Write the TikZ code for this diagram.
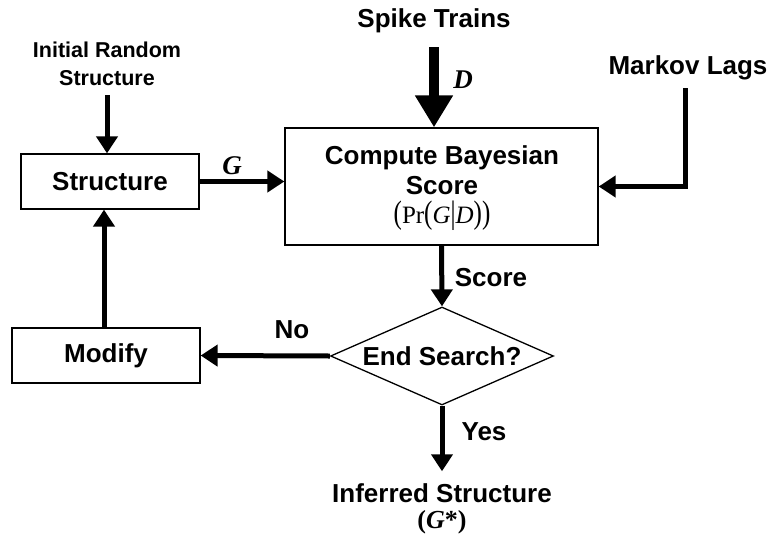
\documentclass[tikz,border=0pt]{standalone}
\usepackage{fontspec}
\setmainfont{Liberation Sans}
\newfontfamily\seriff{Liberation Serif}
\usetikzlibrary{arrows.meta,shapes.geometric}
\tikzset{
  box/.style={draw, line width=1.3pt, inner sep=0pt, font=\fontsize{26}{28}\selectfont\bfseries},
  lbl/.style={font=\fontsize{26}{27}\selectfont\bfseries, inner sep=0pt, align=center},
  mlbl/.style={font=\fontsize{27}{27}\selectfont\seriff\bfseries\itshape, inner sep=0pt},
  arr/.style={line width=5pt, -{Triangle[length=17pt,width=21pt]}},
  bigarr/.style={line width=10pt, -{Triangle[length=32pt,width=36pt]}},
}
\newcommand{\tallp}[1]{\scalebox{1}[1.3]{#1}}
\begin{document}
\begin{tikzpicture}[x=1pt,y=-1pt]
\useasboundingbox (0,0) rectangle (776,544);
% nodes
\node[lbl] (spike) at (434,21) {Spike Trains};
\node[box, minimum width=313pt, minimum height=117pt] (main) at (441.5,186.5) {};
\node[lbl] (t1) at (442,158) {Compute Bayesian};
\node[lbl] (t2) at (442,186) {Score};
\node[inner sep=0pt, font=\fontsize{25}{25}\selectfont\seriff] (t3) at (442,216)
  {\tallp{(}Pr\tallp{(}\textit{G}\tallp{|}\textit{D}\tallp{)}\tallp{)}};
\node[lbl, font=\fontsize{21.5}{28}\selectfont\bfseries] (init) at (107,64) {Initial Random\\Structure};
\node[box, minimum width=178pt, minimum height=55pt] (struct) at (110,181.5) {Structure};
\node[lbl] (markov) at (688,68) {Markov Lags};
\node[box, minimum width=188pt, minimum height=55pt] (modify) at (106,355.5) {Modify};
\node[draw, line width=1.3pt, diamond, inner sep=0pt, minimum width=223pt, minimum height=98pt] (dia) at (442,356) {};
\node[lbl] (endq) at (442,356) {End Search?};
\node[lbl] (inf) at (442,493) {Inferred Structure};
\node[inner sep=0pt, font=\fontsize{26}{26}\selectfont\seriff\bfseries] (gstar) at (442,522) {(\textit{G}*)};
% labels
\node[mlbl] (dl) at (463,80) {D};
\node[mlbl] (gl) at (232,166) {G};
\node[lbl] (scl) at (491,278) {Score};
\node[lbl] (nol) at (292,330) {No};
\node[lbl] (yesl) at (484,432) {Yes};
% connectors
\draw[bigarr, shorten <=14pt] (spike.south) -- (spike.south |- main.north);
\draw[arr, shorten <=9pt] (init.south) -- (init.south |- struct.north);
\draw[arr] (struct.east) -- (struct.east -| main.west);
\draw[arr, shorten <=8pt] ([xshift=-3pt]markov.south) |- (main.east);
\draw[arr] (main.south) -- (dia.north);
\draw[arr] (dia.west) -- (modify.east);
\draw[arr] ([xshift=-2pt]modify.north) -- ([xshift=-2pt]modify.north |- struct.south);
\draw[arr, shorten >=12pt] (dia.south) -- (dia.south |- inf.north);
\end{tikzpicture}
\end{document}
